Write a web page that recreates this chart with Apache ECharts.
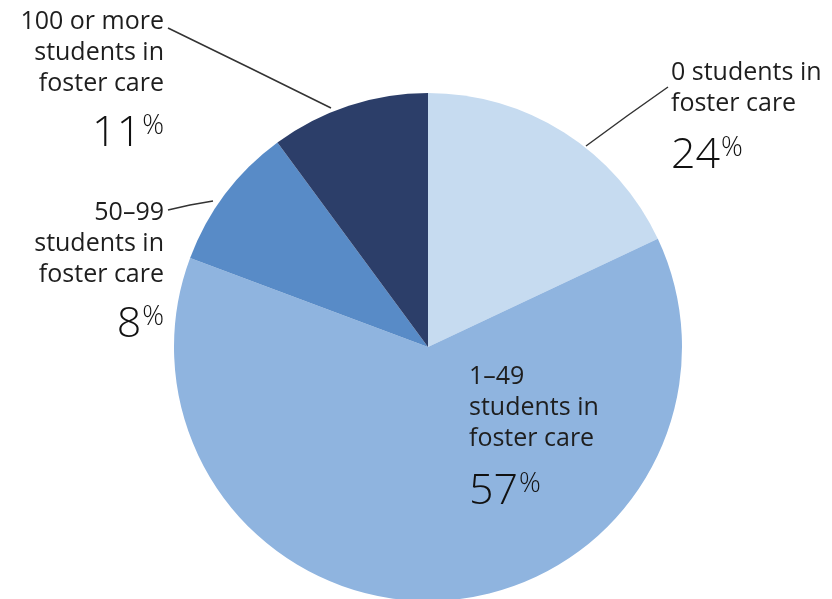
<!DOCTYPE html>
<html>
<head>
<meta charset="utf-8">
<script src="https://cdn.jsdelivr.net/npm/echarts@6/dist/echarts.min.js"></script>
<style>
  html, body { margin: 0; padding: 0; background: #fff; }
  #chart { width: 832px; height: 599px; }
</style>
</head>
<body>
<div id="chart"></div>
<script>
// categories, clockwise from 12 o'clock
const categories = ['0 students in\nfoster care', '1–49\nstudents in\nfoster care', '50–99\nstudents in\nfoster care', '100 or more\nstudents in\nfoster care'];
// slice sizes as drawn in the picture
const shares = [18.0, 62.7, 9.2, 10.1];
// percentages printed next to each slice
const pctLabels = [24, 57, 8, 11];

const colors = ['#c6dbf0', '#8fb4df', '#588bc7', '#2c3e69'];

// where each label sits (annotation layout only)
const labelSpots = [
  {x: 671, y: 57, align: 'left', gap: 73, line: [[586, 146], [627, 116], [668, 87]]},
  {x: 469, y: 361, align: 'left', gap: 76, line: null},
  {x: 164, y: 197, align: 'right', gap: 69, line: [[213, 201], [190, 205], [168, 210]]},
  {x: 164, y: 6, align: 'right', gap: 69, line: [[331, 108], [250, 68], [168, 28]]}
];

const FONT = 'Open Sans';
const chart = echarts.init(document.getElementById('chart'));

const rich = {
  n: {fontSize: 25, fontWeight: 400, lineHeight: 31, color: '#1e1e1e', fontFamily: FONT}
};
labelSpots.forEach((spot, i) => {
  rich['p' + i] = {fontSize: 43, fontWeight: 300, lineHeight: spot.gap, color: '#111', fontFamily: FONT};
  rich['s' + i] = {fontSize: 27, fontWeight: 300, color: '#111', fontFamily: FONT,
    verticalAlign: 'top', padding: [Math.round(spot.gap / 2 - 21), 0, 0, 1]};
});

const option = {
  animation: false,
  series: [
    {
      type: 'pie',
      center: [428, 347],
      radius: 254,
      startAngle: 90,
      clockwise: true,
      avoidLabelOverlap: false,
      itemStyle: {borderWidth: 0},
      label: {
        show: true,
        position: 'outside',
        formatter: (params) => {
          const i = params.dataIndex;
          return '{n|' + categories[i] + '}\n{p' + i + '|' + pctLabels[i] + '}{s' + i + '|%}';
        },
        rich: rich
      },
      labelLine: {
        show: true,
        length: 10,
        length2: 10,
        lineStyle: {color: '#333', width: 1.5}
      },
      labelLayout: (params) => {
        const spot = labelSpots[params.dataIndex];
        const out = {x: spot.x, y: spot.y, align: spot.align, verticalAlign: 'top'};
        if (spot.line) out.labelLinePoints = spot.line;
        return out;
      },
      emphasis: {disabled: true},
      data: categories.map((c, i) => ({
        name: c,
        value: shares[i],
        itemStyle: {color: colors[i]},
        labelLine: {show: labelSpots[i].line !== null}
      }))
    }
  ]
};

chart.setOption(option);
</script>
</body>
</html>
